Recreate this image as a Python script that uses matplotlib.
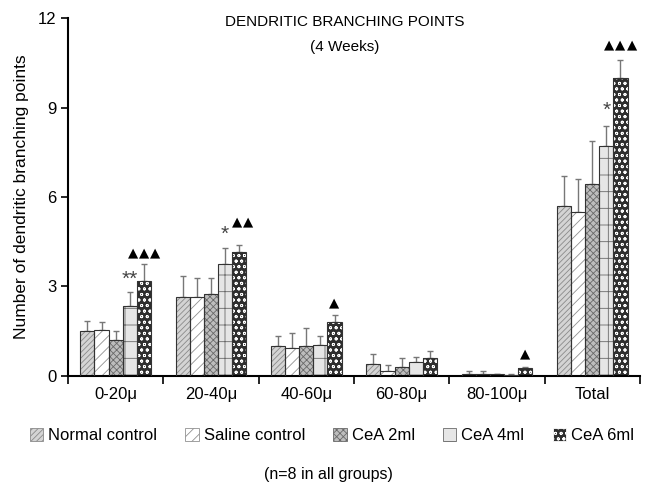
"""Grouped bar chart of dendritic branching points (4 weeks) with hatched bars."""
import numpy as np
import matplotlib
matplotlib.use('Agg')
from matplotlib import pyplot as plt
from matplotlib.patches import Patch

plt.rcParams['font.family'] = ['Liberation Sans', 'DejaVu Sans']
plt.rcParams['hatch.linewidth'] = 0.6

# data
categories = ['0-20\u03bc', '20-40\u03bc', '40-60\u03bc', '60-80\u03bc', '80-100\u03bc', 'Total']
groups = ['Normal control', 'Saline control', 'CeA 2ml', 'CeA 4ml', 'CeA 6ml']

normal = [1.5, 2.65, 1.0, 0.4, 0.08, 5.7]
saline = [1.55, 2.65, 0.95, 0.15, 0.08, 5.5]
cea2 = [1.2, 2.75, 1.0, 0.3, 0.05, 6.43]
cea4 = [2.35, 3.75, 1.05, 0.45, 0.03, 7.7]
cea6 = [3.2, 4.15, 1.8, 0.6, 0.25, 10.0]

normal_err = [0.35, 0.7, 0.35, 0.35, 0.07, 1.02]
saline_err = [0.25, 0.65, 0.5, 0.2, 0.07, 1.1]
cea2_err = [0.3, 0.55, 0.6, 0.3, 0.03, 1.45]
cea4_err = [0.45, 0.55, 0.3, 0.2, 0.02, 0.7]
cea6_err = [0.55, 0.25, 0.25, 0.25, 0.05, 0.6]

# significance marks: group index, category index, text, lift above error bar
marks = [
    (3, 0, '**', 0.45), (4, 0, '\u25b2\u25b2\u25b2', 0.38),
    (3, 1, '*', 0.45), (4, 1, '\u25b2\u25b2', 0.75),
    (4, 2, '\u25b2', 0.4),
    (4, 4, '\u25b2', 0.45),
    (3, 5, '*', 0.52), (4, 5, '\u25b2\u25b2\u25b2', 0.5),
]

values = [normal, saline, cea2, cea4, cea6]
errors = [normal_err, saline_err, cea2_err, cea4_err, cea6_err]

faces = ['#d4d4d4', '#ffffff', '#bdbdbd', '#e6e6e6', '#2e2e2e']
hatches = ['//////', '///', 'xxxxx', '-|', 'ooo']
hatch_cols = ['#8a8a8a', '#909090', '#6a6a6a', '#6a6a6a', '#ffffff']

fig = plt.figure(figsize=(6.57, 4.92), dpi=100)
ax = fig.add_axes([0.1035, 0.236, 0.8705, 0.727])

x = np.arange(len(categories))
width = 0.148
for i, (vals, errs) in enumerate(zip(values, errors)):
    pos = x + (i - 2) * width
    ax.bar(pos, vals, width, color=faces[i], edgecolor=hatch_cols[i],
           hatch=hatches[i], linewidth=0, zorder=2)
    ax.bar(pos, vals, width, fill=False, edgecolor='#333333', linewidth=0.8, zorder=3)
    ax.errorbar(pos, vals, yerr=[np.zeros(len(errs)), errs], fmt='none',
                ecolor='#777777', elinewidth=1.0, capsize=2.5, capthick=1.0, zorder=1)

for gi, ci, txt, lift in marks:
    top = values[gi][ci] + errors[gi][ci]
    xp = x[ci] + (gi - 2) * width
    if '*' in txt:
        ax.text(xp, top + lift, txt, ha='center', va='center', fontsize=15, color='#444444')
    else:
        n = len(txt)
        if n == 2:
            xp += 0.04
        # each triangle on its own, about 8 pt apart
        for k, ch in enumerate(txt):
            ax.annotate(ch, (xp, top + lift), xytext=((k - (n - 1) / 2) * 8, 0),
                        textcoords='offset points', ha='center', va='center',
                        fontsize=9.5, family='DejaVu Sans', color='black')

ax.set_xlim(-0.5, len(categories) - 0.5)
ax.set_ylim(0, 12)
ax.set_yticks([0, 3, 6, 9, 12])
ax.set_xticks(x)
ax.set_xticklabels(categories, fontsize=12)
ax.set_xticks(np.arange(len(categories) + 1) - 0.5, minor=True)
ax.tick_params(axis='x', which='major', length=0, pad=8)
ax.tick_params(axis='x', which='minor', length=6, width=1.2, direction='out')
ax.tick_params(axis='y', labelsize=12, length=5, width=1.2)
for side in ['top', 'right']:
    ax.spines[side].set_visible(False)
for side in ['left', 'bottom']:
    ax.spines[side].set_linewidth(1.5)
ax.set_ylabel('Number of dendritic branching points', fontsize=12.5, labelpad=6)

ax.text(0.484, 1.008, 'DENDRITIC BRANCHING POINTS', transform=ax.transAxes,
        ha='center', va='top', fontsize=11)
ax.text(0.484, 0.94, '(4 Weeks)', transform=ax.transAxes,
        ha='center', va='top', fontsize=11)

handles = [Patch(facecolor=faces[i], edgecolor=hatch_cols[i], hatch=hatches[i], linewidth=0.6)
           for i in range(len(groups))]
fig.legend(handles, groups, loc='center', bbox_to_anchor=(0.505, 0.114), ncol=5,
           frameon=False, fontsize=12, handlelength=0.8, handleheight=0.8,
           handletextpad=0.3, columnspacing=1.7)
fig.text(0.5, 0.026, '(n=8 in all groups)', ha='center', fontsize=11.5)

fig.savefig('out.png', dpi=100)
